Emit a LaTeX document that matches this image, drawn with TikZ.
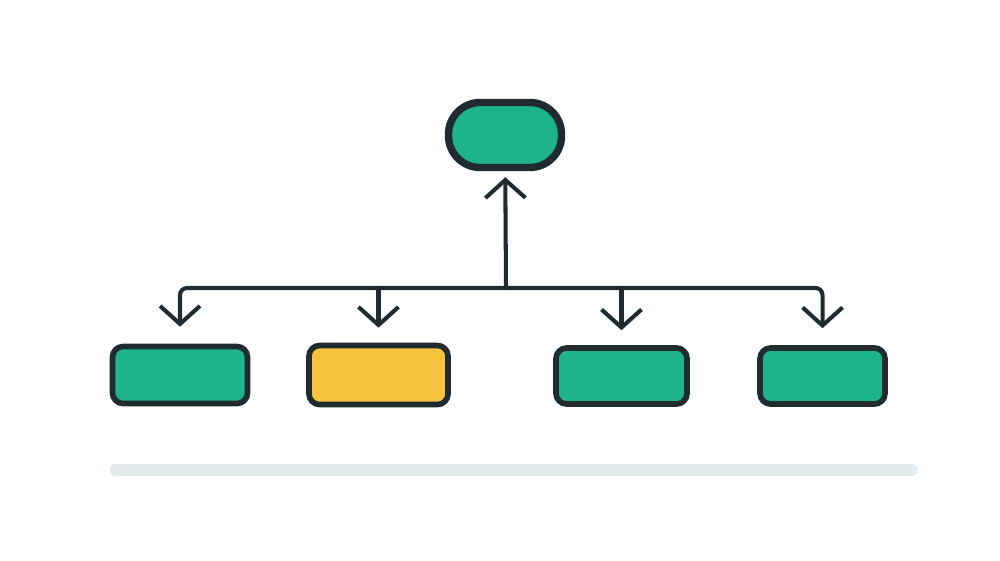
\documentclass[tikz,border=0pt]{standalone}
\usetikzlibrary{arrows.meta}
\definecolor{ink}{HTML}{1F2B2F}
\definecolor{teal}{HTML}{1DB38C}
\definecolor{sun}{HTML}{F7C33F}
\definecolor{haze}{HTML}{E4EBED}

\begin{document}
\begin{tikzpicture}[>={Straight Barb[length=1.8mm,width=4mm]},
  box/.style={draw=ink,line width=1.6pt,rounded corners=3pt,minimum height=0.57cm,inner sep=0pt},
  wire/.style={ink,line width=1.15pt,line cap=round}]
 \useasboundingbox (0,0) rectangle (10,5.6);
 % floor shadow
 \draw[haze,line width=3.2pt,line cap=round] (1.15,0.90)--(9.12,0.90);
 % top node
 \node[box,fill=teal,line width=2.1pt,rounded corners=9pt,minimum width=1.13cm,minimum height=0.65cm]
   (top) at (5.05,4.25) {};
 % lower row
 \node[box,fill=teal,minimum width=1.35cm] (left) at (1.80,1.85) {};
 \node[box,fill=sun,minimum width=1.39cm,minimum height=0.59cm] (pick) at (3.785,1.85) {};
 \node[box,fill=teal,minimum width=1.31cm,minimum height=0.56cm] (mid) at (6.215,1.84) {};
 \node[box,fill=teal,minimum width=1.25cm,minimum height=0.56cm] (right) at (8.225,1.84) {};
 % bus and arrows
 \coordinate (bus) at (5.06,2.72);
 \draw[wire,->,shorten >=0.06cm] (bus)--(top);
 \draw[wire,->,rounded corners=2pt,shorten >=0.17cm] (bus)-|(left);
 \draw[wire,->,rounded corners=2pt,shorten >=0.17cm] (bus)-|(right);
 \draw[wire,->,shorten >=0.15cm] (bus-|pick)--(pick);
 \draw[wire,->,shorten >=0.15cm] (bus-|mid)--(mid);
\end{tikzpicture}
\end{document}
